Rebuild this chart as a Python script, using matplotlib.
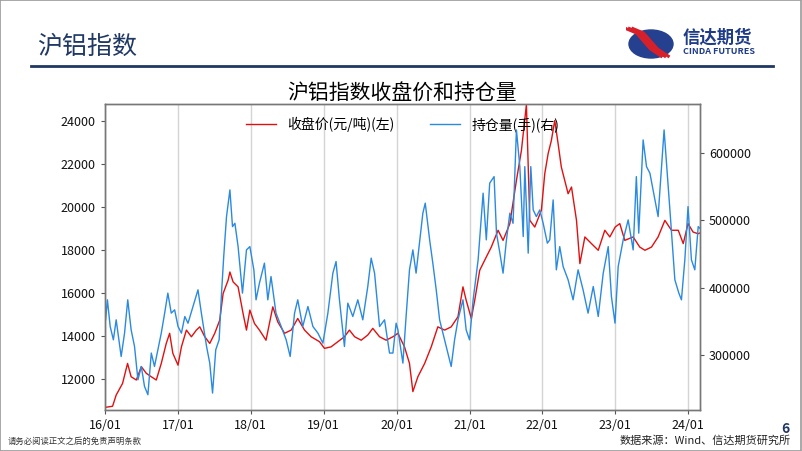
import matplotlib
matplotlib.use("Agg")
import matplotlib.pyplot as plt
import pandas as pd
from matplotlib.lines import Line2D
from matplotlib.patches import Ellipse, Rectangle

plt.rcParams["font.family"] = ["Noto Sans CJK SC", "DejaVu Sans"]
plt.rcParams["axes.unicode_minus"] = False

# 收盘价 (元/吨)
price_dates = [
    "2016-01-04", "2016-02-08", "2016-02-26", "2016-03-29", "2016-04-23", "2016-05-11",
    "2016-06-06", "2016-07-01", "2016-07-26", "2016-08-20", "2016-09-14", "2016-10-09",
    "2016-11-03", "2016-11-20", "2016-12-06", "2017-01-01", "2017-01-18", "2017-02-12",
    "2017-03-09", "2017-04-03", "2017-04-20", "2017-05-15", "2017-06-09", "2017-07-04",
    "2017-07-29", "2017-08-15", "2017-09-09", "2017-09-18", "2017-10-04", "2017-10-29",
    "2017-11-23", "2017-12-10", "2017-12-27", "2018-01-19", "2018-02-13", "2018-03-18",
    "2018-04-21", "2018-05-16", "2018-06-19", "2018-07-22", "2018-08-24", "2018-09-27",
    "2018-10-30", "2018-12-11", "2019-01-05", "2019-02-07", "2019-03-13", "2019-04-15",
    "2019-05-10", "2019-06-05", "2019-07-08", "2019-08-10", "2019-09-04", "2019-10-08",
    "2019-11-10", "2019-12-14", "2020-01-08", "2020-02-10", "2020-03-06", "2020-03-23",
    "2020-04-17", "2020-05-21", "2020-06-23", "2020-07-26", "2020-08-29", "2020-10-01",
    "2020-11-04", "2020-11-29", "2020-12-15", "2021-01-10", "2021-01-27", "2021-02-21",
    "2021-03-18", "2021-04-20", "2021-05-24", "2021-06-18", "2021-07-22", "2021-08-24",
    "2021-09-18", "2021-10-13", "2021-10-30", "2021-11-24", "2021-12-27", "2022-01-13",
    "2022-01-30", "2022-02-15", "2022-03-04", "2022-03-21", "2022-04-06", "2022-05-10",
    "2022-05-27", "2022-06-21", "2022-07-08", "2022-08-02", "2022-09-04", "2022-10-08",
    "2022-11-10", "2022-12-05", "2023-01-01", "2023-01-24", "2023-02-18", "2023-04-01",
    "2023-05-04", "2023-05-30", "2023-07-02", "2023-08-04", "2023-09-07", "2023-10-10",
    "2023-11-13", "2023-12-08", "2024-01-01", "2024-01-26", "2024-02-20", "2024-02-29",
]
price_values = [
    10700, 10750, 11270, 11810, 12740, 12120,
    11970, 12590, 12280, 12120, 11970, 12740,
    13670, 14140, 13210, 12660, 13510, 14290,
    13980, 14290, 14440, 13980, 13670, 14140,
    14750, 15990, 16610, 16990, 16530, 16300,
    15060, 14290, 15220, 14600, 14290, 13820,
    15370, 14670, 14140, 14290, 14830, 14290,
    13980, 13750, 13440, 13510, 13750, 13980,
    14290, 13980, 13820, 14060, 14370, 13980,
    13820, 13980, 14140, 13510, 12740, 11430,
    12120, 12740, 13510, 14440, 14290, 14440,
    14910, 16300, 15680, 14830, 15680, 17070,
    17540, 18150, 18930, 18460, 19240, 21250,
    22640, 24780, 19390, 19080, 19860, 21560,
    22500, 23100, 24030, 22950, 21870, 20630,
    20940, 19390, 17380, 18620, 18310, 18000,
    18930, 18620, 19080, 19240, 18460, 18620,
    18150, 18000, 18150, 18620, 19390, 18930,
    18930, 18310, 19240, 18850, 18770, 18800,
]

# 持仓量 (手)
oi_dates = [
    "2016-01-04", "2016-01-13", "2016-01-27", "2016-02-12", "2016-02-26", "2016-03-22",
    "2016-04-08", "2016-04-24", "2016-05-11", "2016-05-28", "2016-06-14", "2016-07-01",
    "2016-07-17", "2016-08-03", "2016-08-20", "2016-09-05", "2016-09-22", "2016-10-09",
    "2016-10-26", "2016-11-11", "2016-11-28", "2016-12-15", "2017-01-01", "2017-01-18",
    "2017-02-04", "2017-02-20", "2017-03-17", "2017-04-11", "2017-04-28", "2017-05-24",
    "2017-06-09", "2017-06-23", "2017-07-09", "2017-07-26", "2017-08-07", "2017-08-18",
    "2017-09-01", "2017-09-18", "2017-10-01", "2017-10-13", "2017-10-29", "2017-11-20",
    "2017-12-10", "2017-12-27", "2018-01-16", "2018-01-27", "2018-02-13", "2018-03-10",
    "2018-03-27", "2018-04-12", "2018-05-07", "2018-06-02", "2018-06-27", "2018-07-17",
    "2018-08-08", "2018-08-24", "2018-09-18", "2018-10-14", "2018-11-08", "2018-12-03",
    "2018-12-28", "2019-01-22", "2019-02-16", "2019-03-04", "2019-03-21", "2019-04-15",
    "2019-05-02", "2019-05-27", "2019-06-21", "2019-07-16", "2019-08-10", "2019-08-27",
    "2019-09-13", "2019-10-08", "2019-11-02", "2019-11-27", "2019-12-14", "2019-12-30",
    "2020-01-08", "2020-02-02", "2020-02-18", "2020-03-06", "2020-03-23", "2020-04-08",
    "2020-04-25", "2020-05-12", "2020-05-24", "2020-06-15", "2020-07-01", "2020-07-18",
    "2020-08-04", "2020-08-29", "2020-09-15", "2020-10-01", "2020-10-18", "2020-11-04",
    "2020-11-29", "2020-12-15", "2021-01-01", "2021-01-19", "2021-02-13", "2021-03-10",
    "2021-03-26", "2021-04-12", "2021-05-04", "2021-05-16", "2021-06-02", "2021-06-18",
    "2021-07-05", "2021-07-22", "2021-08-07", "2021-08-24", "2021-09-10", "2021-09-27",
    "2021-10-05", "2021-10-22", "2021-11-04", "2021-11-16", "2021-12-02", "2021-12-19",
    "2022-01-05", "2022-01-26", "2022-02-07", "2022-02-24", "2022-03-12", "2022-03-29",
    "2022-04-15", "2022-05-10", "2022-06-04", "2022-06-29", "2022-07-24", "2022-08-18",
    "2022-09-13", "2022-10-08", "2022-11-02", "2022-11-27", "2022-12-13", "2022-12-31",
    "2023-01-16", "2023-02-10", "2023-03-07", "2023-04-01", "2023-04-17", "2023-04-29",
    "2023-05-21", "2023-06-07", "2023-06-24", "2023-07-19", "2023-08-04", "2023-08-21",
    "2023-09-03", "2023-09-20", "2023-10-07", "2023-10-27", "2023-11-16", "2023-11-29",
    "2023-12-16", "2024-01-01", "2024-01-18", "2024-02-04", "2024-02-21", "2024-02-29",
]
oi_values = [
    352500, 382100, 342600, 322900, 352500, 298200,
    332800, 382100, 337700, 313000, 263700, 283400,
    253900, 241600, 303300, 283400, 308100, 332800,
    362400, 392000, 362400, 367300, 342600, 332800,
    357400, 347500, 372200, 396900, 362400, 313000,
    288400, 244100, 308100, 322900, 392000, 446200,
    505300, 544800, 490500, 495400, 460900, 392000,
    456000, 460900, 426500, 382100, 406800, 436400,
    382100, 416600, 362400, 342600, 322900, 298200,
    362400, 382100, 342600, 372200, 342600, 332800,
    318000, 362400, 421600, 438800, 382100, 313000,
    377200, 357400, 382100, 352500, 401800, 443800,
    421600, 342600, 352500, 303300, 303300, 347500,
    337700, 288400, 357400, 426500, 456000, 421600,
    466000, 510400, 525200, 470900, 436400, 396900,
    352500, 322900, 303300, 283400, 322900, 352500,
    382100, 337700, 322900, 382100, 441300, 540000,
    470900, 554800, 564500, 480800, 451200, 421600,
    470900, 510400, 495400, 633600, 579300, 475800,
    579300, 451200, 579300, 515200, 505300, 515200,
    495400, 466000, 470900, 530000, 426500, 460900,
    431400, 411700, 382100, 426500, 396900, 362400,
    401800, 357400, 421600, 460900, 387000, 347600,
    431400, 470900, 500400, 456000, 564500, 480800,
    618800, 579300, 569500, 530000, 505300, 579300,
    633600, 564500, 495400, 411700, 392000, 382100,
    441300, 520100, 441300, 426500, 490500, 488000,
]

left_ticks = [12000, 14000, 16000, 18000, 20000, 22000, 24000]
right_ticks = [300000, 400000, 500000, 600000]
year_ticks = ["2016-01-01", "2017-01-01", "2018-01-01", "2019-01-01", "2020-01-01",
              "2021-01-01", "2022-01-01", "2023-01-01", "2024-01-01"]
year_labels = ["16/01", "17/01", "18/01", "19/01", "20/01", "21/01", "22/01", "23/01", "24/01"]

NAVY = "#1f3864"
RED = "#e01010"
BLUE = "#2a8ae0"

fig = plt.figure(figsize=(8.02, 4.51), dpi=100)

# slide frame and header
fig.patches.append(Rectangle((0.0005, 0.001), 0.998, 0.998, transform=fig.transFigure,
                             fill=False, edgecolor="#9a9a9a", linewidth=1.2))
fig.text(37 / 802, 1 - 47 / 451, "沪铝指数", fontsize=18, color=NAVY, va="center", ha="left")
fig.add_artist(Line2D([31 / 802, 773 / 802], [1 - 65.5 / 451, 1 - 65.5 / 451],
                      transform=fig.transFigure, color=NAVY, linewidth=2))

# logo
lax = fig.add_axes([626 / 802, 1 - 59 / 451, 48 / 802, 33 / 451])
lax.set_xlim(0, 48)
lax.set_ylim(0, 33)
lax.axis("off")
lax.add_patch(Ellipse((25, 15), 44, 28, color="#24408e"))
for off in (-3.5, 0, 3.5):
    lax.plot([2 + off, 14 + off, 28 + off, 40 + off], [31, 26, 10, 2],
             color="#d8202a", linewidth=2.2, solid_capstyle="butt")
fig.text(683 / 802, 1 - 38 / 451, "信达期货", fontsize=12.5, fontweight="bold",
         color="#1f3c88", va="center", ha="left")
fig.text(683 / 802, 1 - 52 / 451, "CINDA FUTURES", fontsize=6.5, fontweight="bold",
         color="#1f3c88", va="center", ha="left")

# chart
ax = fig.add_axes([105 / 802, 1 - 410 / 451, 595 / 802, 306 / 451])
ax2 = ax.twinx()

p_dates = pd.to_datetime(price_dates)
o_dates = pd.to_datetime(oi_dates)
line1, = ax.plot(p_dates, price_values, color=RED, linewidth=1.0, label="收盘价(元/吨)(左)")
line2, = ax2.plot(o_dates, oi_values, color=BLUE, linewidth=1.0, label="持仓量(手)(右)")

ax.set_xlim(pd.Timestamp("2016-01-04"), pd.Timestamp("2024-03-01"))
ax.set_ylim(10575, 24800)
ax2.set_ylim(219000, 672000)

ax.set_xticks(pd.to_datetime(year_ticks))
ax.set_xticklabels(year_labels)
ax.set_yticks(left_ticks)
ax2.set_yticks(right_ticks)
ax.grid(axis="x", color="#d4d4d4", linewidth=1)
ax.set_axisbelow(True)

for a in (ax, ax2):
    a.tick_params(labelsize=9, length=3, color="#555555", labelcolor="#111111")
    for s in a.spines.values():
        s.set_color("#777777")
        s.set_linewidth(1)

ax.set_title("沪铝指数收盘价和持仓量", fontsize=15, pad=3)
leg = ax.legend([line1, line2], [line1.get_label(), line2.get_label()], ncol=2,
                loc="upper center", bbox_to_anchor=(0.5, 1.0), frameon=False,
                fontsize=10, handlelength=2.2, columnspacing=2.5)

# footer
fig.text(8 / 802, 1 - 441 / 451, "请务必阅读正文之后的免责声明条款", fontsize=6, color="#333333",
         va="center", ha="left")
fig.text(791 / 802, 1 - 441 / 451, "数据来源：Wind、信达期货研究所", fontsize=8, color="#222222",
         va="center", ha="right")
fig.text(790 / 802, 1 - 429 / 451, "6", fontsize=10, fontweight="bold", color=NAVY,
         va="center", ha="right")

fig.savefig("out.png", dpi=100)
